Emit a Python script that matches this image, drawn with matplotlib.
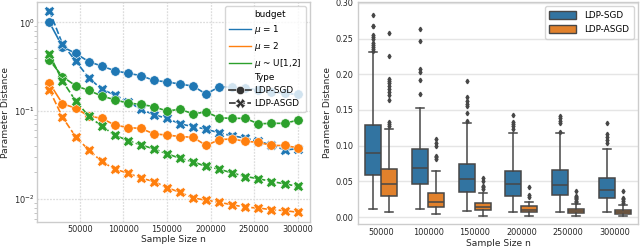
import numpy as np
import matplotlib
matplotlib.use("Agg")
import matplotlib.pyplot as plt
from matplotlib.lines import Line2D
from matplotlib.patches import Patch
from matplotlib.ticker import LogLocator, NullFormatter

# ---------------- data: left panel ----------------
sample_sizes = [15000 * (i + 1) for i in range(20)]
budget_labels = ["$\\mu$ = 1", "$\\mu$ = 2", "$\\mu$ ~ U[1,2]"]
type_labels = ["LDP-SGD", "LDP-ASGD"]

sgd_mu1 = [1.0, 0.53, 0.446, 0.36, 0.32, 0.284, 0.265, 0.25, 0.22, 0.212,
           0.20, 0.19, 0.154, 0.187, 0.184, 0.18, 0.172, 0.164, 0.157, 0.153]
asgd_mu1 = [1.355, 0.57, 0.366, 0.237, 0.175, 0.151, 0.127, 0.104, 0.09, 0.082,
            0.071, 0.066, 0.062, 0.056, 0.052, 0.049, 0.045, 0.041, 0.036, 0.037]
sgd_mu2 = [0.205, 0.12, 0.107, 0.087, 0.082, 0.069, 0.0645, 0.063, 0.0547, 0.053,
           0.051, 0.050, 0.0404, 0.047, 0.048, 0.0449, 0.044, 0.0404, 0.0404, 0.038]
asgd_mu2 = [0.172, 0.0845, 0.051, 0.036, 0.0267, 0.0218, 0.0197, 0.0173, 0.0158, 0.0135,
            0.0119, 0.0103, 0.0097, 0.0092, 0.0086, 0.0081, 0.0079, 0.0076, 0.0074, 0.0071]
sgd_mu12 = [0.375, 0.243, 0.192, 0.17, 0.147, 0.133, 0.122, 0.118, 0.111, 0.099,
            0.104, 0.092, 0.097, 0.083, 0.082, 0.082, 0.071, 0.072, 0.072, 0.078]
asgd_mu12 = [0.435, 0.217, 0.13, 0.087, 0.067, 0.053, 0.046, 0.041, 0.037, 0.0325,
             0.029, 0.0264, 0.0234, 0.0218, 0.0197, 0.018, 0.017, 0.0158, 0.0149, 0.0139]

# ---------------- data: right panel (box statistics) ----------------
box_categories = ["50000", "100000", "150000", "200000", "250000", "300000"]
sgd_whislo = [0.011, 0.011, 0.008, 0.0065, 0.0065, 0.007]
sgd_q1 = [0.059, 0.0462, 0.0345, 0.030, 0.0308, 0.026]
sgd_med = [0.090, 0.0686, 0.0537, 0.046, 0.0448, 0.0378]
sgd_q3 = [0.129, 0.0947, 0.0747, 0.065, 0.0658, 0.054]
sgd_whishi = [0.2305, 0.153, 0.131, 0.117, 0.117, 0.0957]
sgd_fliers = [
    [0.283, 0.268, 0.267, 0.255, 0.252, 0.249, 0.244, 0.241, 0.238, 0.236, 0.233],
    [0.263, 0.247, 0.207, 0.203, 0.192, 0.172],
    [0.191, 0.168, 0.163, 0.158, 0.155, 0.146, 0.135],
    [0.1428, 0.1325, 0.1297, 0.127, 0.1237],
    [0.142, 0.138, 0.134, 0.131, 0.119],
    [0.131, 0.116, 0.1115, 0.108, 0.103],
]
asgd_whislo = [0.007, 0.004, 0.0014, 0.002, 0.0014, 0.0014]
asgd_q1 = [0.029, 0.0135, 0.0093, 0.0065, 0.005, 0.0042]
asgd_med = [0.046, 0.0215, 0.0135, 0.0098, 0.0089, 0.007]
asgd_q3 = [0.067, 0.034, 0.0196, 0.015, 0.0117, 0.0093]
asgd_whishi = [0.1237, 0.065, 0.0336, 0.021, 0.0187, 0.0168]
asgd_fliers = [
    [0.258, 0.226, 0.194, 0.191, 0.188, 0.183, 0.179, 0.175, 0.171, 0.164, 0.133, 0.130, 0.128],
    [0.109, 0.104, 0.100, 0.086, 0.0835, 0.081],
    [0.0546, 0.051, 0.044, 0.0415, 0.0397],
    [0.042, 0.031, 0.0285],
    [0.036, 0.030, 0.0285, 0.0266, 0.0247, 0.0229, 0.021],
    [0.036, 0.027, 0.0247, 0.022, 0.019],
]

# ---------------- styling ----------------
TICK_FS = 5.9
LABEL_FS = 6.6
LEG_FS = 6.4
plt.rcParams.update({
    "font.family": ["DejaVu Sans"],
    "axes.edgecolor": "#cccccc",
    "axes.linewidth": 1.0,
    "xtick.color": "#262626",
    "ytick.color": "#262626",
    "axes.labelcolor": "#262626",
    "legend.edgecolor": "#cccccc",
})

W, H = 640, 247
fig = plt.figure(figsize=(W / 100, H / 100), dpi=100)
axL = fig.add_axes([37 / W, (H - 222) / H, (310 - 37) / W, (222 - 2) / H])
axR = fig.add_axes([358 / W, (H - 224) / H, (638 - 358) / W, (224 - 2) / H])

colors = ["#1f77b4", "#ff7f0e", "#2ca02c"]
sgd_series = [sgd_mu1, sgd_mu2, sgd_mu12]
asgd_series = [asgd_mu1, asgd_mu2, asgd_mu12]

for c, s_sgd, s_asgd in zip(colors, sgd_series, asgd_series):
    axL.plot(sample_sizes, s_sgd, color=c, lw=1.2, ls="-", marker="o", ms=6.8,
             mec="white", mew=0.4, zorder=3)
    axL.plot(sample_sizes, s_asgd, color=c, lw=1.2, ls=(0, (4, 1.5)), marker="X",
             ms=7.5, mec="white", mew=0.4, zorder=3)

axL.set_yscale("log")
axL.set_ylim(0.0055, 1.7)
axL.set_xlim(750, 314250)
axL.set_xticks([50000, 100000, 150000, 200000, 250000, 300000])
axL.grid(True, which="major", color="#dddddd", ls=(0, (1.5, 1.0)), lw=0.9)
axL.set_axisbelow(True)
axL.tick_params(axis="both", which="major", length=0, pad=2, labelsize=TICK_FS)
axL.tick_params(axis="y", which="minor", length=2, width=0.6, color="#bbbbbb")
axL.yaxis.set_minor_locator(LogLocator(base=10, subs=np.arange(2, 10)))
axL.yaxis.set_minor_formatter(NullFormatter())
axL.set_xlabel("Sample Size n", fontsize=LABEL_FS, labelpad=1)
axL.set_ylabel("Parameter Distance", fontsize=LABEL_FS, labelpad=3)

handles = [Line2D([], [], color="none", label="budget")]
for c, lab in zip(colors, budget_labels):
    handles.append(Line2D([], [], color=c, lw=1.0, label=lab))
handles.append(Line2D([], [], color="none", label="Type"))
handles.append(Line2D([], [], color="#333333", lw=1.2, marker="o", ms=6,
                      mec="white", mew=0.4, label=type_labels[0]))
handles.append(Line2D([], [], color="#333333", lw=1.2, ls=(0, (4, 1.5)), marker="X",
                      ms=6.5, mec="white", mew=0.4, label=type_labels[1]))
legL = axL.legend(handles=handles, loc="upper right", fontsize=LEG_FS, frameon=True,
                  framealpha=0.8, handlelength=2.4,
                  borderaxespad=0.5, labelspacing=0.42, borderpad=0.45,
                  handletextpad=0.4)

# ---------------- right panel ----------------
line_col = "#474747"
box_colors = ["#3274a1", "#e1812c"]
width = 0.34
positions = np.arange(len(box_categories))

def make_stats(wlo, q1, med, q3, whi, fl):
    return [dict(whislo=a, q1=b, med=m, q3=d, whishi=e, fliers=f)
            for a, b, m, d, e, f in zip(wlo, q1, med, q3, whi, fl)]

for k, (stats, off) in enumerate([
        (make_stats(sgd_whislo, sgd_q1, sgd_med, sgd_q3, sgd_whishi, sgd_fliers), -0.172),
        (make_stats(asgd_whislo, asgd_q1, asgd_med, asgd_q3, asgd_whishi, asgd_fliers), 0.172)]):
    axR.bxp(stats, positions=positions + off, widths=width, patch_artist=True,
            showfliers=True, manage_ticks=False,
            boxprops=dict(facecolor=box_colors[k], edgecolor=line_col, lw=1.1),
            medianprops=dict(color=line_col, lw=1.1),
            whiskerprops=dict(color=line_col, lw=1.1),
            capprops=dict(color=line_col, lw=1.1),
            flierprops=dict(marker="d", markersize=2.3, markerfacecolor=line_col,
                            markeredgecolor=line_col))

axR.set_xlim(-0.5, 5.5)
axR.set_ylim(-0.0098, 0.3012)
axR.set_xticks(positions)
axR.set_xticklabels(box_categories)
axR.set_yticks([0.0, 0.05, 0.10, 0.15, 0.20, 0.25, 0.30])
axR.set_yticklabels(["0.00", "0.05", "0.10", "0.15", "0.20", "0.25", "0.30"])
axR.yaxis.grid(True, color="#e5e5e5", lw=1.0)
axR.xaxis.grid(False)
axR.set_axisbelow(True)
axR.tick_params(axis="both", length=0, pad=3, labelsize=TICK_FS)
axR.set_xlabel("Sample Size n", fontsize=LABEL_FS, labelpad=1)
axR.set_ylabel("Parameter Distance", fontsize=LABEL_FS, labelpad=3)
legR = axR.legend(handles=[Patch(facecolor=box_colors[0], edgecolor=line_col, label=type_labels[0]),
                           Patch(facecolor=box_colors[1], edgecolor=line_col, label=type_labels[1])],
                  loc="upper right", fontsize=LEG_FS, frameon=True,
                  handlelength=3.0, handleheight=0.9, borderaxespad=0.5, borderpad=0.5,
                  labelspacing=0.6, handletextpad=0.9)

fig.savefig("out.png", dpi=100)
